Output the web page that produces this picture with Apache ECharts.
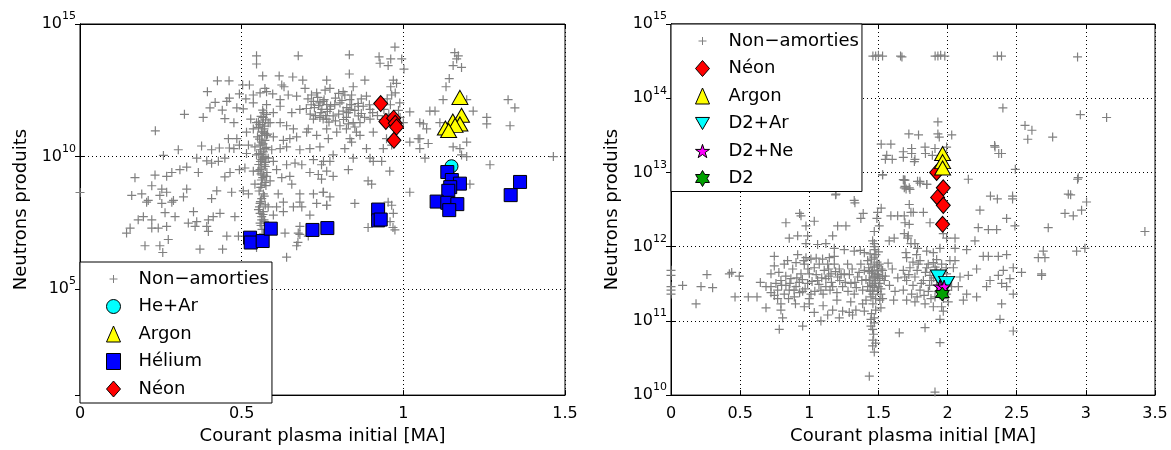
<!DOCTYPE html>
<html>
<head>
<meta charset="utf-8">
<script src="https://cdn.jsdelivr.net/npm/echarts@6/dist/echarts.min.js"></script>
<style>
html,body{margin:0;padding:0;background:#fff;}
#chart{width:1171px;height:450px;}
</style>
</head>
<body>
<div id="chart"></div>
<script>
// ---------------- DATA ----------------
const leftXTicks = [0, 0.5, 1, 1.5];
const rightXTicks = [0, 0.5, 1, 1.5, 2, 2.5, 3, 3.5];
const leftYTickExponents = [5, 10, 15];
const rightYTickExponents = [10, 11, 12, 13, 14, 15];

const xAxisTitle = 'Courant plasma initial [MA]';
const yAxisTitle = 'Neutrons produits';

// Left panel: [courant (MA), neutrons]
const leftNonAmorties = [
[0.000,4.4e8],
[0.546,6.3e13],[0.546,3.1e13],[0.675,6.3e13],[0.565,1.1e13],[0.616,1.1e13],[0.658,1.0e13],[0.689,7.6e12],[0.425,7.2e12],[0.461,7.2e12],[0.394,2.8e12],[0.503,5.0e12],[0.524,5.0e12],[0.572,3.7e12],[0.624,5.0e12],[0.631,4.3e12],[0.493,2.3e12],[0.513,1.5e12],[0.536,2.1e12],[0.557,2.5e12],[0.577,2.8e12],[0.596,2.3e12],[0.619,1.4e12],[0.644,2.1e12],[0.670,1.9e12],[0.696,3.7e12],[0.716,2.1e12],[0.732,2.5e12],[0.758,3.2e12],
[0.418,1.1e12],[0.454,1.2e12],[0.402,6.9e11],[0.440,5.6e11],[0.462,1.6e12],[0.485,6.9e11],[0.505,6.3e11],[0.536,1.05e12],[0.577,9.1e11],[0.598,4.5e11],[0.619,7.9e11],[0.655,4.5e11],[0.680,6.0e11],[0.722,1.2e12],[0.742,1.05e12],[0.763,9.1e11],
[0.323,3.9e11],[0.381,3.0e11],[0.448,2.7e11],[0.476,1.9e11],[0.528,2.6e11],[0.546,1.9e11],[0.567,3.0e11],[0.588,1.9e11],[0.619,1.9e11],[0.639,1.45e11],[0.660,1.1e11],[0.706,1.1e11],[0.722,2.6e11],[0.742,3.0e11],[0.763,2.6e11],
[0.233,9.3e10],[0.459,4.7e10],[0.485,4.7e10],[0.515,8.3e10],[0.536,1.1e11],[0.562,8.3e10],[0.577,6.3e10],[0.598,5.5e10],[0.629,4.1e10],[0.649,4.7e10],[0.670,5.5e10],[0.701,8.3e10],[0.732,6.3e10],[0.768,4.7e10],
[0.304,1.8e10],[0.376,2.5e10],[0.407,1.8e10],[0.431,2.1e10],[0.462,2.1e10],[0.476,2.0e10],[0.493,2.7e10],[0.521,2.7e10],[0.541,2.3e10],[0.562,3.5e10],[0.572,2.0e10],[0.593,1.8e10],[0.619,2.0e10],[0.639,2.3e10],[0.680,1.8e10],[0.711,2.0e10],[0.742,2.3e10],
[0.258,1.1e10],[0.361,8.7e9],[0.392,6.9e9],[0.407,5.6e9],[0.428,6.6e9],[0.448,8.7e9],[0.515,1.3e10],[0.546,1.15e10],[0.565,8.7e9],[0.582,8.7e9],[0.598,6.6e9],[0.639,4.9e9],[0.665,5.6e9],[0.686,4.9e9],[0.722,7.6e9],[0.753,6.6e9],
[0.330,4.0e9],[0.309,3.2e9],[0.284,2.5e9],[0.268,1.8e9],[0.232,2.0e9],[0.170,1.6e9],[0.366,2.5e9],[0.448,1.7e9],[0.464,2.5e9],[0.493,3.2e9],[0.510,3.7e9],[0.536,2.8e9],[0.562,3.7e9],[0.577,1.8e9],[0.608,3.2e9],[0.624,1.6e9],[0.649,1.8e9],[0.711,2.5e9],[0.737,2.1e9],[0.763,2.8e9],
[0.222,7.9e8],[0.253,5.9e8],[0.268,4.5e8],[0.160,3.4e8],[0.191,3.9e8],[0.211,2.2e8],[0.247,3.4e8],[0.289,2.2e8],[0.320,3.0e8],[0.330,5.9e8],[0.407,2.6e8],[0.423,5.1e8],[0.469,4.5e8],[0.505,5.1e8],[0.521,3.9e8],[0.541,9.1e8],[0.562,9.1e8],[0.588,1.2e9],[0.613,3.9e8],[0.655,9.1e8],[0.680,3.9e8],[0.722,3.9e8],[0.753,4.5e8],[0.773,3.0e8],
[0.206,1.9e8],[0.253,1.7e8],[0.284,1.9e8],[0.557,1.7e8],[0.582,1.26e8],[0.608,1.26e8],[0.629,1.9e8],[0.680,1.9e8],[0.686,1.26e8],[0.732,1.7e8],[0.763,1.45e8],
[0.180,4.1e7],[0.196,5.4e7],[0.222,4.1e7],[0.263,7.6e7],[0.294,5.4e7],[0.351,8.3e7],[0.335,3.1e7],[0.361,3.5e7],[0.397,4.1e7],[0.412,5.4e7],[0.433,7.2e7],[0.479,5.4e7],[0.557,7.2e7],[0.562,4.1e7],[0.598,6.2e7],[0.629,8.3e7],[0.660,1.26e8],[0.711,6.2e7],
[0.155,2.0e7],[0.144,1.3e7],[0.222,2.0e7],[0.242,2.0e7],[0.268,2.3e7],[0.356,2.3e7],[0.392,2.3e7],[0.397,1.5e7],[0.454,1.0e7],[0.490,1.0e7],[0.634,1.3e7],[0.675,1.3e7],[0.706,1.0e7],[0.680,2.3e7],
[0.201,4.3e6],[0.247,4.3e6],[0.273,7.4e6],[0.256,2.4e6],[0.371,3.2e6],[0.441,3.2e6],[0.546,3.7e6],[0.639,1.6e6],[0.670,4.3e6],
[0.565,1.9e11],[0.569,1.1e11],[0.563,6.3e10],[0.572,4.1e10],[0.557,2.7e10],[0.567,1.5e10],[0.562,7.6e9],[0.570,4.9e9],[0.557,3.2e9],[0.565,1.6e9],[0.572,1.05e9],[0.559,6.9e8],[0.567,3.9e8],[0.562,2.6e8],[0.555,1.26e8],[0.567,8.3e7],[0.562,5.4e7],[0.569,4.1e7],[0.557,3.1e7],[0.565,5.6e11],[0.577,3.9e11],[0.582,1.9e11],[0.552,1.26e11],
[0.560,1.2e10],[0.575,9.0e9],[0.553,5.0e9],[0.578,2.5e9],[0.560,2.2e9],[0.571,1.4e11],[0.555,4.5e10],[0.580,7.0e10],[0.558,1.8e10],[0.574,6.0e9],
[0.552,2.0e11],[0.560,3.3e11],[0.568,4.5e11],[0.574,2.4e11],[0.556,1.6e11],[0.563,9.0e10],[0.571,7.5e10],[0.549,5.5e10],[0.566,3.0e10],[0.576,2.2e10],[0.553,1.3e10],[0.569,1.0e10],[0.558,6.5e9],[0.573,4.2e9],[0.551,2.8e9],[0.568,2.0e9],[0.561,1.3e9],[0.575,8.0e8],[0.554,5.0e8],[0.570,3.2e8],[0.558,2.0e8],[0.573,1.5e8],[0.552,1.0e8],[0.566,6.5e7],[0.571,3.5e7],[0.560,2.5e7],[0.563,1.8e7],[0.567,1.2e7],
[0.705,1.5e12],[0.715,9.0e11],[0.725,7.0e11],[0.735,1.7e12],[0.748,6.0e11],[0.755,1.4e12],[0.765,5.0e11],[0.775,8.0e11],[0.712,4.0e11],[0.728,3.5e11],[0.745,4.5e11],[0.760,3.5e11],[0.770,2.0e11],[0.700,6.5e11],[0.738,8.5e11],
[0.790,1.6e12],[0.800,2.4e12],[0.810,1.3e12],[0.825,7.0e11],[0.835,6.0e11],[0.850,5.5e11],[0.860,1.0e12],[0.870,4.2e11],[0.880,3.0e11],[0.800,4.0e11],[0.815,2.5e11],[0.830,1.7e11],[0.850,1.3e11],[0.790,2.2e11],[0.870,1.5e12],[0.895,9.0e11],[0.905,4.5e11],[0.920,3.5e11],
[0.940,6.0e11],[0.955,4.0e11],[0.960,9.0e11],[0.985,5.5e11],[0.990,3.0e11],[0.950,1.5e12],[0.975,2.5e12],[0.935,2.5e11],
[0.674,5.8e6],[0.680,1.15e7],[0.891,2.1e7],[0.968,2.1e7],[0.959,3.5e7],
[0.974,1.35e14],[0.833,6.9e13],[0.925,5.8e13],[0.961,4.8e13],[0.928,3.3e13],[0.953,2.7e13],[0.995,4.8e13],[1.002,2.0e13],[0.833,1.3e13],[0.881,7.6e12],[0.969,7.6e12],[0.979,5.8e12],[0.961,4.3e12],[0.763,7.6e12],[0.773,3.7e12],[0.814,2.8e12],[0.845,4.3e12],[0.886,1.9e12],[0.835,1.4e12],[0.804,1.05e12],[0.752,1.2e12],[0.861,7.9e11],[0.897,6.0e11],[0.964,2.1e12],[0.989,1.05e12],[1.020,4.8e11],[0.783,3.4e11],[0.824,3.0e11],[0.866,1.9e11],[0.897,2.6e11],[1.000,1.9e11],[1.051,1.9e11],[0.763,1.1e11],[0.794,8.3e10],[0.835,4.7e10],[0.866,6.3e10],[0.907,8.3e10],[0.948,4.7e10],[0.964,2.7e10],[0.938,2.0e10],[0.886,2.0e10],[0.783,1.15e10],[0.845,8.7e9],[0.897,8.7e9],[0.933,6.6e9],[0.830,3.2e9],[0.773,6.6e9],[0.747,4.9e9],
[1.020,3.5e10],[1.051,4.7e10],[1.082,5.2e11],[1.098,5.2e11],[1.062,1.7e11],[1.072,1.1e11],[1.051,2.0e10],[1.067,8.7e9],[1.113,1.9e11],[1.123,1.4e12],[1.132,4.3e12],[1.142,8.7e12],[1.159,8.3e13],[1.165,4.8e13],[1.154,2.7e13],[1.180,2.3e13],[1.170,6.3e13],[1.196,1.4e12],[1.216,5.2e11],[1.258,1.7e11],[1.258,3.0e11],[1.196,3.5e10],[1.175,2.0e10],[1.154,2.3e10],[1.196,1.0e10],[1.180,1.15e10],[1.046,4.7e10],[1.077,3.1e10],[1.268,4.9e9],[1.324,1.4e12],[1.345,6.9e11],[1.330,1.45e11],[1.464,1.0e10],[1.206,9.1e8],[1.020,4.5e8],[0.964,1.45e8],[0.969,7.2e7],[0.974,1.7e7],[0.953,1.9e8],[0.891,1.2e9],[0.902,9.1e8],[0.850,1.7e8],[0.747,1.4e9],[0.752,4.5e8],[0.763,1.45e8],[0.783,1.8e9],[0.958,2.8e9],[0.907,6.6e9],
[0.819,2.1e12],[0.840,9.1e11],[0.814,5.2e11],[0.788,9.1e11],[0.830,4.5e11],[0.845,1.9e11],[0.804,1.45e11],[0.855,8.3e10],[0.824,1.1e11],[0.840,3.5e10],[0.819,2.0e10],[0.861,3.4e11],[0.773,6.0e11],[0.752,2.6e11],[0.876,7.9e11],[0.840,2.1e12]
];
const leftHeAr = [[1.149,4.3e9]];
const leftArgon = [[1.175,1.7e12],[1.180,3.6e11],[1.153,2.2e11],[1.175,1.7e11],[1.160,1.5e11],[1.130,1.2e11],[1.140,9.6e10]];
const leftHelium = [[0.526,8.7e6],[0.528,5.7e6],[0.565,6.5e6],[0.590,1.9e7],[0.719,1.7e7],[0.765,2.0e7],[0.922,1.0e8],[0.922,3.9e7],[0.930,4.2e7],[1.136,2.6e9],[1.150,1.3e9],[1.175,9.5e8],[1.145,7.0e8],[1.139,5.1e8],[1.103,2.0e8],[1.136,1.8e8],[1.167,1.6e8],[1.142,9.5e7],[1.361,1.1e9],[1.332,3.5e8]];
const leftNeon = [[0.930,1.0e12],[0.946,2.1e11],[0.970,2.8e11],[0.975,1.8e11],[0.979,1.3e11],[0.971,4.1e10]];

// Right panel: [courant (MA), neutrons]
const rightNonAmorties = [
[0,4.8e11],[0,4.1e11],[0,2.9e11],[0,2.6e11],[0,2.3e11],
[0.084,3.0e11],[0.181,1.7e11],[0.217,2.9e11],[0.260,4.2e11],[0.301,2.8e11],[0.422,4.3e11],[0.439,4.5e11],[0.494,4.0e11],[0.463,2.1e11],[0.559,2.1e11],[0.622,2.1e11],[0.646,3.3e11],[0.687,1.5e11],[0.723,4.3e11],[0.747,5.5e11],[0.747,7.4e11],[0.831,2.1e12],[0.855,1.3e12],[0.940,2.6e12],[0.976,1.9e12],[0.988,1.4e12],[1.036,2.2e12],[0.916,1.4e12],[0.976,1.1e12],[1.060,1.07e12],[1.120,1.1e12],[1.169,1.4e12],[1.181,9.5e11],[1.193,5.1e12],[1.205,1.9e12],[1.265,1.9e12],[1.325,4.2e12],[1.373,2.4e12],[1.253,9.1e11],[1.325,8.7e11],[1.369,8.9e11],[1.398,8.3e11],[1.470,1.1e12],[1.494,2.9e12],[1.489,2.4e12],[1.506,1.9e12],[1.470,1.6e12],[1.530,9.3e12],[1.687,7.9e12],[1.687,6.2e12],[1.723,6.2e12],[1.723,3.7e12],[1.735,2.9e12],[1.590,2.6e12],[1.639,2.6e12],[1.687,2.6e12],[1.723,2.0e12],[1.687,1.5e12],[1.711,1.3e12],[1.735,1.1e12],[1.614,1.3e12],[1.578,1.2e12],[1.699,8.3e11],[1.783,9.5e11],[1.783,7.6e12],
[0.723,2.9e11],[0.759,3.2e11],[0.771,2.6e11],[0.795,3.5e11],[0.819,2.3e11],[0.831,3.0e11],[0.855,2.6e11],[0.867,3.7e11],[0.892,2.1e11],[0.904,2.9e11],[0.928,3.3e11],[0.940,4.3e11],[0.952,2.5e11],[0.964,5.8e11],[0.976,7.1e11],[0.988,3.2e11],[1.000,4.3e11],[1.012,2.3e11],[1.036,5.2e11],[1.060,3.5e11],[1.072,5.8e11],[1.084,2.6e11],[1.108,4.8e11],[1.120,3.7e11],[1.133,5.8e11],[1.145,7.1e11],[1.157,4.3e11],[1.169,2.9e11],[1.181,5.8e11],[1.205,3.9e11],[1.217,5.0e11],[1.241,2.9e11],[1.253,4.3e11],[1.277,5.8e11],[1.301,3.2e11],[1.325,2.3e11],[1.349,3.9e11],[1.373,5.8e11],[1.386,2.6e11],[1.398,4.8e11],[1.410,1.9e11],[1.434,3.5e11],[0.819,5.8e11],[0.843,6.5e11],[0.904,6.1e11],[1.012,6.8e11],[1.096,6.8e11],[1.181,7.4e11],[0.916,7.8e11],[0.795,1.7e11],[0.795,1.4e11],[0.783,7.7e10],[0.807,1.1e11],[0.952,8.5e10],[0.964,1.55e11],[1.000,1.7e11],[1.036,1.3e11],[1.084,1.0e11],[1.133,1.2e11],[1.169,1.4e11],[1.217,1.1e11],[1.241,1.35e11],[1.289,1.3e11],[1.337,1.4e11],[1.386,1.7e11],[1.518,1.5e11],[0.687,2.9e11],[0.723,2.4e11],[0.747,2.2e11],[0.771,2.0e11],
[0.78,4.5e11],[0.80,3.0e11],[0.83,4.0e11],[0.86,3.2e11],[0.88,5.0e11],[0.89,2.6e11],[0.91,3.8e11],[0.93,2.4e11],[0.95,3.6e11],[0.97,2.7e11],[0.99,5.0e11],[1.02,3.4e11],[1.04,2.5e11],[1.05,4.2e11],[1.07,3.1e11],[1.09,3.8e11],[1.10,2.3e11],[1.12,2.9e11],[1.14,4.0e11],[1.15,2.6e11],[1.16,3.3e11],[1.19,4.6e11],[1.20,2.4e11],[1.22,3.5e11],[1.23,4.2e11],[1.26,3.3e11],[1.28,2.5e11],[1.29,4.2e11],[1.31,5.0e11],[1.33,3.3e11],[1.34,2.8e11],[1.36,4.5e11],[1.38,3.5e11],[0.85,2.0e11],[0.90,1.7e11],[1.10,1.6e11],[1.20,1.9e11],[1.30,1.8e11],[1.00,2.0e11],[0.96,6.5e11],[1.05,7.0e11],[1.14,5.0e11],
[1.422,6.5e11],[1.446,5.8e11],[1.458,4.8e11],[1.470,5.3e11],[1.482,4.3e11],[1.494,3.9e11],[1.446,3.5e11],[1.470,3.2e11],[1.506,3.2e11],[1.422,2.9e11],[1.458,2.6e11],[1.494,2.5e11],[1.518,2.3e11],[1.446,2.1e11],[1.482,7.8e11],[1.506,5.8e11],[1.530,4.8e11],[1.542,3.5e11],[1.434,4.6e11],[1.470,4.0e11],[1.494,4.7e11],[1.458,3.0e11],[1.410,3.6e11],[1.518,2.7e11],[1.475,9.1e11],[1.458,1.2e12],
[1.43,5.2e11],[1.45,4.4e11],[1.46,3.8e11],[1.47,2.8e11],[1.48,3.5e11],[1.49,5.5e11],[1.50,4.2e11],[1.51,3.7e11],[1.52,5.0e11],[1.44,2.5e11],[1.46,2.3e11],[1.48,2.0e11],[1.50,2.9e11],[1.53,4.0e11],[1.45,6.8e11],[1.47,7.2e11],[1.49,6.2e11],[1.51,1.9e11],[1.46,1.7e11],[1.48,1.4e11],[1.45,1.25e11],[1.47,1.0e12],[1.44,8.0e11],[1.50,8.5e11],[1.48,5.0e10],[1.46,5.5e10],[1.47,3.8e10],
[1.446,1.05e11],[1.470,9.4e10],[1.446,8.5e10],[1.458,7.7e10],[1.465,6.6e10],[1.458,4.6e10],[1.434,1.8e10],[1.470,1.1e11],[1.651,6.9e10],[1.398,1.35e11],[1.313,1.2e11],
[1.46,3.7e14],[1.48,3.7e14],[1.50,3.8e14],[1.53,3.7e14],[1.66,3.7e14],[1.67,3.6e14],[1.91,3.7e14],[1.93,3.7e14],[1.95,3.8e14],[1.98,3.7e14],[2.36,3.7e14],[2.39,3.7e14],[2.94,3.6e14],
[1.52,2.4e13],[1.56,1.7e13],[1.53,9.3e12],[1.52,3.3e12],[1.19,5.0e12],[1.33,3.9e12],[0.93,2.8e12],[1.39,2.8e12],[1.59,2.4e13],[1.55,1.5e13],[1.60,1.5e13],[1.68,1.6e13],[1.74,1.8e13],[1.76,1.4e13],[1.84,1.8e13],[1.89,1.7e13],[1.68,8.0e12],[1.70,6.0e12],[1.80,7.6e12],[1.85,6.9e12],[2.15,8.1e12],[2.49,1.1e13],[2.94,8.1e12],[2.89,5.0e12],[2.31,4.8e12],[2.36,4.4e12],[2.47,4.8e12],[2.47,4.4e12],[2.56,4.3e13],[2.61,3.7e13],[2.58,2.8e13],[2.76,3.0e13],[2.34,2.3e13],[2.37,1.8e13],[2.39,1.8e13],[2.03,3.2e13],[1.94,3.0e13],[1.93,3.3e13],[1.79,3.2e13],[1.72,3.3e13],[1.93,4.8e13],[2.40,7.4e13],[2.96,6.0e13],[3.15,5.5e13],
[1.837,2.2e13],[1.740,2.1e13],[1.680,1.9e13],[1.764,1.5e13],[1.909,2.1e13],[1.993,2.2e13],[2.343,2.2e13],[1.692,7.9e12],[1.692,6.5e12],[1.728,5.9e12],[1.801,7.2e12],[1.849,6.9e12],[2.945,8.5e12],[2.873,5.1e12],[3.005,4.0e12],[2.969,3.1e12],[2.849,2.8e12],[2.909,2.6e12],[2.234,3.1e12],[2.427,2.4e12],[3.427,1.6e12],[2.728,1.8e12],[2.487,1.9e12],[2.222,1.8e12],[2.295,1.7e12],[2.355,1.7e12],[2.198,1.2e12],[2.138,9.1e11],[2.054,9.5e11],[2.258,7.4e11],[2.295,7.4e11],[2.367,7.4e11],[2.427,7.8e11],[2.692,8.7e11],[2.704,7.1e11],[2.656,7.1e11],[2.933,8.7e11],[2.993,9.5e11],[2.680,4.1e11],[2.535,4.5e11],[2.475,5.2e11],[2.403,4.8e11],[2.367,4.1e11],[2.451,3.7e11],[2.427,2.9e11],[2.475,2.3e11],[2.391,3.2e11],[2.307,3.5e11],[2.282,2.9e11],[2.210,5.0e11],[2.150,4.1e11],[2.090,3.9e11],[2.078,2.9e11],[2.138,2.3e11],[2.210,2.1e11],[2.114,1.9e11],[2.054,6.5e11],[2.042,5.2e11],[2.391,1.7e11],[2.379,1.05e11],[2.475,7.3e10],[1.945,5.1e10],[1.837,8.1e10],[1.945,1.05e11],[1.969,1.35e11],[1.909,1.1e10],[1.764,1.1e12],[1.716,1.4e12],[1.692,2.1e12],[1.752,2.9e12],[1.825,2.9e12],[1.873,2.1e12],[1.993,1.3e12],[2.054,1.3e12],[1.969,1.5e12],[1.945,9.5e11],[1.897,8.3e11],[1.849,8.7e11],[1.776,7.8e11],[1.704,7.1e11],[2.68,4.3e11],
[1.680,4.8e11],[1.728,5.2e11],[1.788,5.8e11],[1.849,5.2e11],[1.897,6.1e11],[1.957,5.8e11],[2.017,6.5e11],[1.704,3.5e11],[1.764,3.9e11],[1.825,3.5e11],[1.873,4.1e11],[1.921,4.8e11],[1.993,4.3e11],[1.680,2.6e11],[1.740,2.3e11],[1.801,2.6e11],[1.861,2.5e11],[1.909,2.1e11],[1.993,2.3e11],[2.029,2.9e11],[1.704,1.9e11],[1.764,1.8e11],[1.837,1.7e11],[1.897,1.55e11],[1.957,1.55e11],[2.005,1.8e11],[1.885,3.5e11],[1.957,2.9e11],[1.801,6.5e11],[1.921,6.7e11],
[1.72,4.2e11],[1.75,3.0e11],[1.78,4.8e11],[1.81,3.2e11],[1.84,4.5e11],[1.87,3.0e11],[1.90,3.8e11],[1.92,3.0e11],[1.95,3.6e11],[1.98,3.4e11],[1.78,2.1e11],[1.83,2.2e11],[1.88,2.0e11],[1.93,2.5e11],[1.97,2.0e11],[2.00,2.6e11],[1.86,5.8e11],[1.91,5.3e11],[1.75,6.2e11],[1.69,3.9e11],[1.95,4.5e11],[1.99,5.2e11],
[1.55,4.0e11],[1.58,3.0e11],[1.60,5.0e11],[1.62,2.5e11],[1.57,6.0e11],[1.64,3.8e11],[1.53,2.0e11],[1.61,1.9e11]
];
const rightNeon = [[1.921,1.0e13],[1.969,6.2e12],[1.928,4.6e12],[1.969,3.6e12],[1.964,2.0e12]];
const rightArgon = [[1.964,1.8e13],[1.964,1.4e13],[1.964,1.15e13]];
const rightD2Ar = [[1.933,3.9e11],[1.993,3.2e11]];
const rightD2Ne = [[1.945,2.9e11],[1.975,2.9e11]];
const rightD2 = [[1.962,2.3e11]];

// ---------------- STYLE ----------------
const FONT = 'DejaVu Sans';
const PLUS = 'path://M5,0L5,10M0,5L10,5';
const PLUS_LEGEND = 'path://M0,0M14,14M7,3L7,11M3,7L11,7';
const DOWN_TRI = 'path://M0,0L10,0L5,8.66Z';
const HEXAGRAM = 'path://M5,0L6.443,2.5L9.33,2.5L7.887,5L9.33,7.5L6.443,7.5L5,10L3.557,7.5L0.67,7.5L2.113,5L0.67,2.5L3.557,2.5Z';
const PENTAGRAM = 'path://M5,0L6.12,3.45L9.76,3.45L6.82,5.59L7.94,9.05L5,6.91L2.06,9.05L3.18,5.59L0.24,3.45L3.88,3.45Z';

const dotted = {color: '#000', width: 1, type: [1, 3]};

function xAxisDef(gridIndex, ticks, mirror) {
  return {
    type: 'value', gridIndex: gridIndex, position: mirror ? 'top' : 'bottom',
    min: ticks[0], max: ticks[ticks.length - 1], interval: ticks[1] - ticks[0],
    name: mirror ? '' : xAxisTitle, nameLocation: 'middle', nameGap: 26,
    nameTextStyle: {fontFamily: FONT, fontSize: 18, color: '#000'},
    axisLine: {show: true, lineStyle: {color: '#000', width: 1}},
    axisTick: {show: true, inside: true, length: 5, lineStyle: {color: '#000'}},
    axisLabel: {show: !mirror, margin: 11, fontFamily: FONT, fontSize: 16, color: '#000'},
    splitLine: {show: !mirror, lineStyle: dotted}
  };
}
function yAxisDef(gridIndex, base, min, max, exps, mirror) {
  return {
    type: 'log', logBase: base, gridIndex: gridIndex, position: mirror ? 'right' : 'left',
    min: min, max: max,
    name: mirror ? '' : yAxisTitle, nameLocation: 'middle', nameGap: 50,
    nameTextStyle: {fontFamily: FONT, fontSize: 18, color: '#000'},
    axisLine: {show: true, lineStyle: {color: '#000', width: 1}},
    axisTick: {show: true, inside: true, length: 5, lineStyle: {color: '#000'}},
    axisLabel: {
      show: !mirror, margin: 4, fontFamily: FONT, color: '#000',
      formatter: function (v) {
        const e = Math.round(Math.log10(v));
        return exps.indexOf(e) >= 0 ? '{b|10}{s|' + e + '}' : '';
      },
      rich: {
        b: {fontFamily: FONT, fontSize: 16, color: '#000'},
        s: {fontFamily: FONT, fontSize: 11, color: '#000', padding: [0, 0, 15, 0]}
      }
    },
    splitLine: {show: !mirror, lineStyle: dotted}
  };
}

function sc(name, data, xi, symbol, size, color, z, stroke) {
  return {
    name: name, type: 'scatter', xAxisIndex: xi, yAxisIndex: xi, data: data,
    symbol: symbol, symbolSize: size, z: z, silent: true,
    itemStyle: stroke
      ? {color: color, borderColor: color, borderWidth: 1.2, opacity: 1}
      : {color: color, borderColor: '#000', borderWidth: 1, opacity: 1}
  };
}

const legendCommon = {
  orient: 'vertical', selectedMode: false, itemWidth: 14, itemHeight: 16, itemGap: 9.5,
  backgroundColor: '#fff', borderColor: '#000', borderWidth: 1, borderRadius: 0,
  itemStyle: {borderWidth: 1},
  textStyle: {fontFamily: FONT, fontSize: 18, lineHeight: 18, color: '#000', padding: [0, 0, 0, 13]}
};

const option = {
  animation: false,
  backgroundColor: '#fff',
  grid: [
    {left: 80, right: 606, top: 24, bottom: 46, show: true, borderColor: '#000', borderWidth: 1, backgroundColor: '#fff'},
    {left: 671, right: 16, top: 24, bottom: 46, show: true, borderColor: '#000', borderWidth: 1, backgroundColor: '#fff'}
  ],
  xAxis: [
    xAxisDef(0, leftXTicks, false),
    xAxisDef(1, rightXTicks, false),
    xAxisDef(0, leftXTicks, true),
    xAxisDef(1, rightXTicks, true)
  ],
  yAxis: [
    yAxisDef(0, 100000, 10, 1e15, leftYTickExponents, false),
    yAxisDef(1, 10, 1e10, 1e15, rightYTickExponents, false),
    yAxisDef(0, 100000, 10, 1e15, leftYTickExponents, true),
    yAxisDef(1, 10, 1e10, 1e15, rightYTickExponents, true)
  ],
  legend: [
    Object.assign({}, legendCommon, {
      left: 80, top: 262, padding: [8, 3, 5, 26],
      data: [{name: 'Non−amorties', icon: PLUS_LEGEND}, 'He+Ar', 'Argon', 'Hélium', 'Néon']
    }),
    Object.assign({}, legendCommon, {
      left: 671, top: 24, padding: [8, 3, 4, 24],
      textStyle: Object.assign({}, legendCommon.textStyle, {padding: [0, 0, 0, 14]}),
      data: [{name: 'Non−amorties', icon: PLUS_LEGEND}, 'Néon', 'Argon', 'D2+Ar', 'D2+Ne', 'D2']
    })
  ],
  series: [
    sc('Non−amorties', leftNonAmorties, 0, PLUS, 9, '#808080', 2, true),
    sc('He+Ar', leftHeAr, 0, 'circle', 13, '#00ffff', 3),
    sc('Argon', leftArgon, 0, 'triangle', [16, 14], '#ffff00', 4),
    sc('Hélium', leftHelium, 0, 'rect', 13, '#0000ff', 5),
    sc('Néon', leftNeon, 0, 'diamond', [14, 16], '#ff0000', 6),
    sc('Non−amorties', rightNonAmorties, 1, PLUS, 9, '#808080', 2, true),
    sc('Néon', rightNeon, 1, 'diamond', [14, 16], '#ff0000', 3),
    sc('Argon', rightArgon, 1, 'triangle', [16, 14], '#ffff00', 4),
    sc('D2+Ar', rightD2Ar, 1, DOWN_TRI, [16, 14], '#00ffff', 5),
    sc('D2+Ne', rightD2Ne, 1, PENTAGRAM, 13, '#ff00ff', 6),
    sc('D2', rightD2, 1, HEXAGRAM, 14, '#00a000', 7)
  ]
};

const chart = echarts.init(document.getElementById('chart'), null, {renderer: 'canvas'});
chart.setOption(option);
</script>
</body>
</html>
